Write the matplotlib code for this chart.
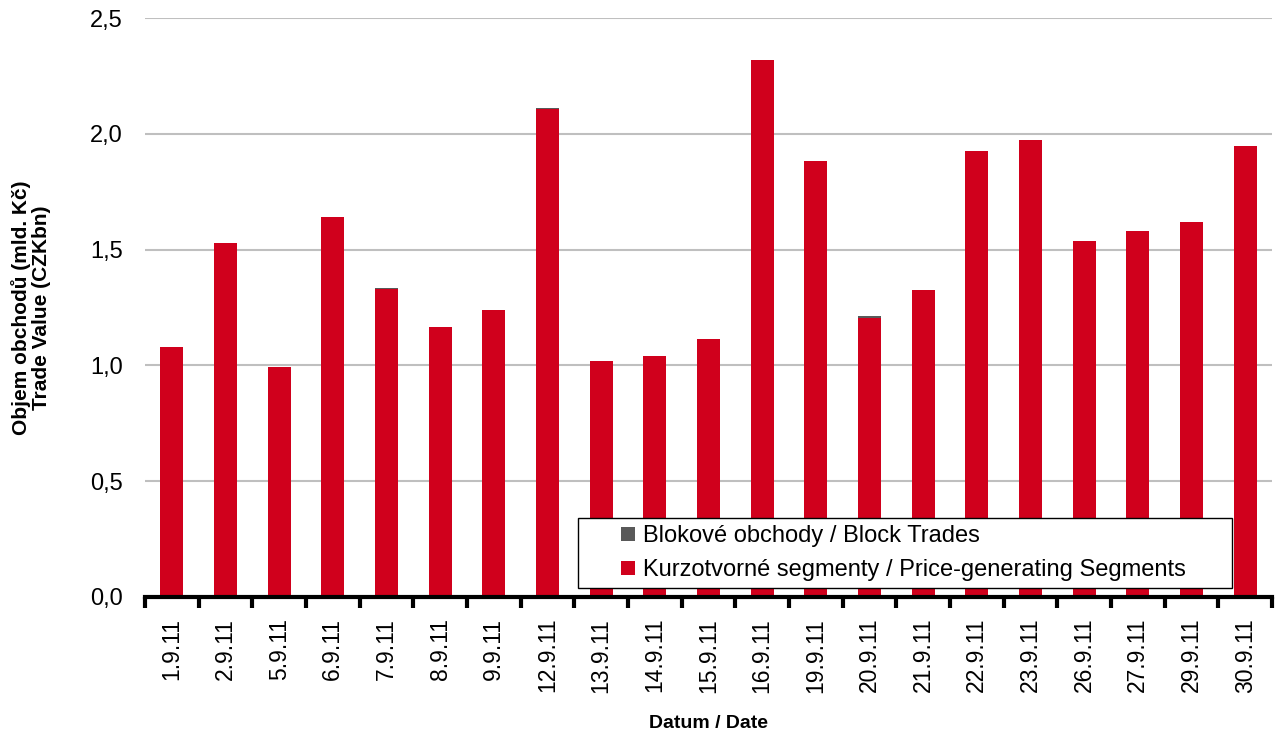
import matplotlib
matplotlib.use("Agg")
import matplotlib.pyplot as plt
from matplotlib.patches import Rectangle
from matplotlib.container import BarContainer
from matplotlib.legend_handler import HandlerPatch, update_from_first_child
import numpy as np

plt.rcParams["font.family"] = ["Liberation Sans", "DejaVu Sans"]

dates = ["1.9.11", "2.9.11", "5.9.11", "6.9.11", "7.9.11", "8.9.11", "9.9.11",
         "12.9.11", "13.9.11", "14.9.11", "15.9.11", "16.9.11", "19.9.11", "20.9.11",
         "21.9.11", "22.9.11", "23.9.11", "26.9.11", "27.9.11", "29.9.11", "30.9.11"]
price_segments = [1.079, 1.528, 0.993, 1.641, 1.330, 1.166, 1.239,
                  2.107, 1.019, 1.041, 1.114, 2.319, 1.883, 1.203,
                  1.326, 1.926, 1.973, 1.537, 1.580, 1.619, 1.947]
block_trades = [0.0, 0.0, 0.0, 0.0, 0.006, 0.0, 0.0,
                0.005, 0.0, 0.0, 0.0, 0.0, 0.0, 0.009,
                0.0, 0.0, 0.0, 0.0, 0.0, 0.0, 0.0]

red = "#D0001C"
grey = "#595959"


def small_square(legend, orig_handle, xdescent, ydescent, width, height, fontsize):
    # small square sitting at the right end of the handle box
    s = 10
    return Rectangle((-xdescent + width - s, -ydescent + (height - s) / 2), s, s)


fig = plt.figure(figsize=(12.76, 7.37), dpi=100)
ax = fig.add_axes([145 / 1276, 1 - 597 / 737, (1272 - 145) / 1276, (597 - 18) / 737])

x = np.arange(len(dates))
ax.bar(x, price_segments, width=0.43, color=red, zorder=2,
       label="Kurzotvorné segmenty / Price-generating Segments")
ax.bar(x, block_trades, width=0.43, bottom=price_segments, color=grey, zorder=2,
       label="Blokové obchody / Block Trades")

ax.set_xlim(-0.5, len(dates) - 0.5)
ax.set_ylim(0, 2.5)
yt = np.arange(0, 2.51, 0.5)
ax.set_yticks(yt)
ax.set_yticklabels([f"{v:.1f}".replace(".", ",") for v in yt])
ax.yaxis.grid(True, color="#BFBFBF", linewidth=1.5, zorder=0)
ax.set_axisbelow(True)

# category labels, ticks at the category boundaries
ax.set_xticks(x)
ax.set_xticklabels(dates, rotation=90)
ax.set_xticks(np.arange(-0.5, len(dates), 1.0), minor=True)
ax.tick_params(axis="x", which="major", length=0, pad=15, labelsize=16.5)
ax.tick_params(axis="x", which="minor", length=8, width=3, color="black")
ax.tick_params(axis="y", length=0, pad=16, labelsize=17)

for s in ["top", "right", "left"]:
    ax.spines[s].set_visible(False)
ax.spines["bottom"].set_linewidth(3)
ax.spines["bottom"].set_zorder(3)

ax.set_xlabel("Datum / Date", fontsize=14, fontweight="bold", labelpad=16)
ax.set_ylabel("Objem obchodů (mld. Kč)\nTrade Value (CZKbn)", fontsize=15,
              fontweight="bold", labelpad=28, linespacing=1.05)

handles, labels = ax.get_legend_handles_labels()
leg = ax.legend(handles[::-1], labels[::-1], loc="lower left", mode="expand",
                bbox_to_anchor=((578 - 145) / 1127, (597 - 588) / 579,
                                (1232 - 578) / 1127, 0.1),
                fontsize=17, frameon=True, fancybox=False, edgecolor="black",
                framealpha=1, handlelength=2.1, handletextpad=0.34,
                borderaxespad=0, labelspacing=0.5, borderpad=0.3,
                handler_map={BarContainer: HandlerPatch(
                    patch_func=small_square, update_func=update_from_first_child)})
leg.get_frame().set_linewidth(1)
leg.set_zorder(5)

fig.savefig("out.png", dpi=100)
